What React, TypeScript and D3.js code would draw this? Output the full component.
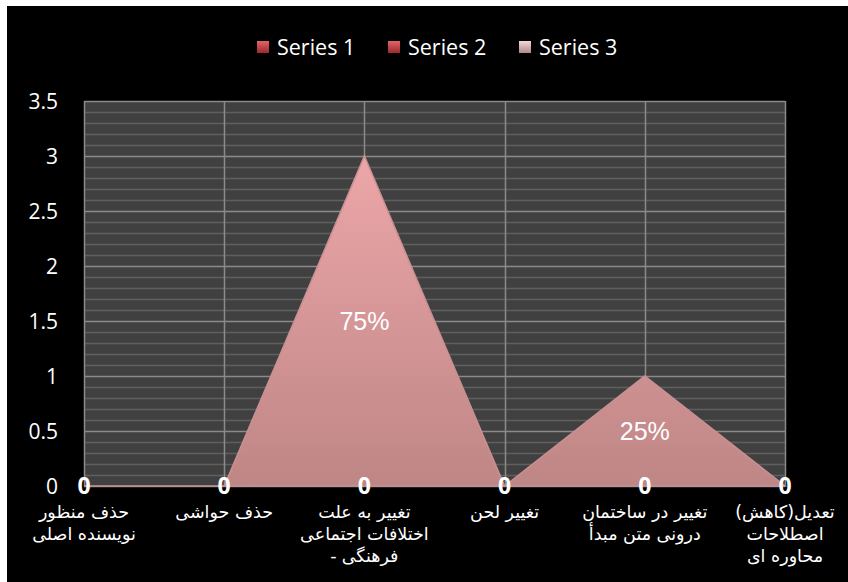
import React, { useEffect, useRef } from 'react';
import * as d3 from 'd3';

const categories = [
  ['حذف منظور', 'نویسنده اصلی'],
  ['حذف حواشی'],
  ['تغییر به علت', 'اختلافات اجتماعی', '- فرهنگی'],
  ['تغییر لحن'],
  ['تغییر در ساختمان', 'درونی متن مبدأ'],
  ['تعدیل(کاهش)', 'اصطلاحات', 'محاوره ای'],
];
const series1 = [0, 0, 0, 0, 0, 0];
const series2 = [0, 0, 0, 0, 0, 0];
const series3 = [0, 0, 3, 0, 1, 0];
const seriesNames = ['Series 1', 'Series 2', 'Series 3'];
const yTicks = [0, 0.5, 1, 1.5, 2, 2.5, 3, 3.5];

const W = 848;
const H = 582;

export default function App() {
  const svgRef = useRef<SVGSVGElement>(null);

  useEffect(() => {
    document.body.style.margin = '0';
    const svg = d3.select(svgRef.current);
    svg.selectAll('*').remove();

    const left = 84, right = 785, top = 101, bottom = 486;

    svg.append('rect').attr('width', W).attr('height', H).attr('fill', '#fff');
    svg.append('rect').attr('x', 7).attr('y', 6).attr('width', W - 7).attr('height', H - 6).attr('fill', '#000');

    const defs = svg.append('defs');
    const areaGrad = defs.append('linearGradient').attr('id', 'areaGrad')
      .attr('x1', 0).attr('x2', 0).attr('y1', 0).attr('y2', 1);
    areaGrad.append('stop').attr('offset', '0%').attr('stop-color', '#eca6a8');
    areaGrad.append('stop').attr('offset', '100%').attr('stop-color', '#bf8686');

    const redGrad = defs.append('linearGradient').attr('id', 'redGrad')
      .attr('x1', 0).attr('x2', 0).attr('y1', 0).attr('y2', 1);
    redGrad.append('stop').attr('offset', '0%').attr('stop-color', '#e26466');
    redGrad.append('stop').attr('offset', '100%').attr('stop-color', '#9c2a2c');
    const pinkGrad = defs.append('linearGradient').attr('id', 'pinkGrad')
      .attr('x1', 0).attr('x2', 0).attr('y1', 0).attr('y2', 1);
    pinkGrad.append('stop').attr('offset', '0%').attr('stop-color', '#f4d8d8');
    pinkGrad.append('stop').attr('offset', '100%').attr('stop-color', '#b08888');

    const x = d3.scalePoint<number>()
      .domain(d3.range(categories.length))
      .range([left, right]);
    const y = d3.scaleLinear().domain([0, 3.5]).range([bottom, top]);

    // plot background
    svg.append('rect')
      .attr('x', left).attr('y', top)
      .attr('width', right - left).attr('height', bottom - top)
      .attr('fill', '#404040');

    // minor gridlines
    const minor = d3.range(0, 3.5001, 0.1).filter(v => Math.abs(v * 2 - Math.round(v * 2)) > 0.01);
    svg.append('g').selectAll('line').data(minor).enter().append('line')
      .attr('x1', left).attr('x2', right)
      .attr('y1', d => Math.round(y(d)) + 0.5).attr('y2', d => Math.round(y(d)) + 0.5)
      .attr('stroke', '#5f5f5f').attr('stroke-width', 1.5);

    // major gridlines
    svg.append('g').selectAll('line').data(yTicks).enter().append('line')
      .attr('x1', left).attr('x2', right)
      .attr('y1', d => Math.round(y(d)) + 0.5).attr('y2', d => Math.round(y(d)) + 0.5)
      .attr('stroke', '#8a8a8a').attr('stroke-width', 1.5);
    svg.append('g').selectAll('line').data(d3.range(categories.length)).enter().append('line')
      .attr('x1', d => Math.round(x(d)!) + 0.5).attr('x2', d => Math.round(x(d)!) + 0.5)
      .attr('y1', top).attr('y2', bottom)
      .attr('stroke', '#8a8a8a').attr('stroke-width', 1.5);

    // areas
    const area = d3.area<number>()
      .x((d, i) => x(i)!)
      .y0(y(0))
      .y1(d => y(d));
    [series1, series2].forEach(s => {
      svg.append('path').datum(s).attr('d', area).attr('fill', '#b03436');
    });
    svg.append('path').datum(series3).attr('d', area)
      .attr('fill', 'url(#areaGrad)')
      .attr('stroke', '#c99092').attr('stroke-width', 1.5);

    // y axis labels
    svg.append('g').selectAll('text').data(yTicks).enter().append('text')
      .attr('x', 58).attr('y', d => y(d))
      .attr('dy', '0.36em')
      .attr('text-anchor', 'end')
      .attr('fill', '#fff')
      .style('font-family', '"Open Sans", sans-serif')
      .style('font-size', '21px')
      .text(d => String(d));

    // category labels (a leading dash is placed on the left by hand, bidi would move it)
    const cat = svg.append('g')
      .attr('fill', '#fff')
      .style('font-family', '"DejaVu Sans", sans-serif')
      .style('font-size', '17.5px');
    categories.forEach((lines, i) => {
      const cx = x(i)!;
      lines.forEach((ln, j) => {
        const ly = 518 + j * 22;
        if (ln.startsWith('- ')) {
          const word = cat.append('text').attr('y', ly).attr('text-anchor', 'end').text(ln.slice(2));
          const dash = cat.append('text').attr('y', ly).attr('text-anchor', 'start').text('-');
          const ww = (word.node() as SVGTextElement).getComputedTextLength();
          const dw = (dash.node() as SVGTextElement).getComputedTextLength();
          const gap = 5;
          const total = ww + dw + gap;
          word.attr('x', cx + total / 2);
          dash.attr('x', cx - total / 2);
        } else {
          cat.append('text')
            .attr('x', cx).attr('y', ly)
            .attr('text-anchor', 'middle')
            .text(ln);
        }
      });
    });

    // zero data labels
    svg.append('g').selectAll('text').data(series1).enter().append('text')
      .attr('x', (d, i) => x(i)!).attr('y', y(0))
      .attr('dy', '0.36em')
      .attr('text-anchor', 'middle')
      .attr('fill', '#fff')
      .style('font-family', '"Open Sans", sans-serif')
      .style('font-size', '23px')
      .style('font-weight', 'bold')
      .text(d => String(d));

    // percentage labels for series 3
    const total = d3.sum(series3);
    svg.append('g').selectAll('text')
      .data(series3.map((v, i) => ({ v, i })).filter(d => d.v > 0))
      .enter().append('text')
      .attr('x', d => x(d.i)!).attr('y', d => y(d.v / 2))
      .attr('dy', '0.36em')
      .attr('text-anchor', 'middle')
      .attr('fill', '#fff')
      .style('font-family', '"Liberation Sans", Arial, sans-serif')
      .style('font-size', '25px')
      .text(d => `${Math.round((d.v / total) * 100)}%`);

    // legend
    const legendX = [257, 388, 519];
    const legendFills = ['url(#redGrad)', 'url(#redGrad)', 'url(#pinkGrad)'];
    seriesNames.forEach((name, i) => {
      const g = svg.append('g').attr('transform', `translate(${legendX[i]},47)`);
      g.append('rect').attr('x', 0).attr('y', -6).attr('width', 12).attr('height', 12)
        .attr('fill', legendFills[i]);
      g.append('text').attr('x', 20).attr('y', 0).attr('dy', '0.36em')
        .attr('fill', '#fff')
        .style('font-family', '"Open Sans", sans-serif')
        .style('font-size', '21.5px')
        .text(name);
    });
  }, []);

  return <svg ref={svgRef} width={W} height={H} style={{ display: 'block' }} />;
}
